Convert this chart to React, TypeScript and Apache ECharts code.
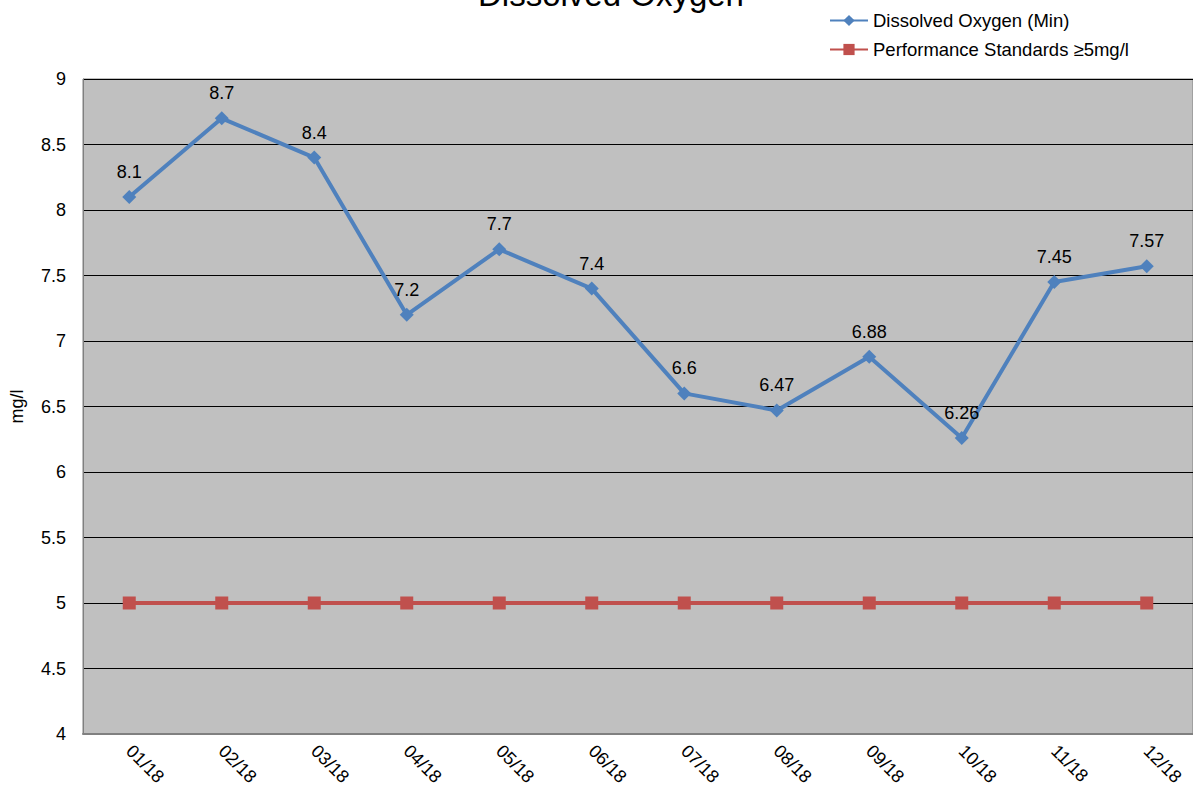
import React, { useEffect, useRef } from "react";
import * as echarts from "echarts";

// Monthly readings, 2018
const months = ["01/18", "02/18", "03/18", "04/18", "05/18", "06/18", "07/18", "08/18", "09/18", "10/18", "11/18", "12/18"];
const dissolvedOxygenMin = [8.1, 8.7, 8.4, 7.2, 7.7, 7.4, 6.6, 6.47, 6.88, 6.26, 7.45, 7.57];
const performanceStandard = [5, 5, 5, 5, 5, 5, 5, 5, 5, 5, 5, 5];

const FONT = "'Liberation Sans', Arial, sans-serif";

export default function App() {
  const ref = useRef<HTMLDivElement>(null);

  useEffect(() => {
    if (!ref.current) return;
    const chart = echarts.init(ref.current, undefined, { renderer: "svg" });
    chart.setOption({
      animation: false,
      backgroundColor: "#ffffff",
      textStyle: { fontFamily: FONT },
      graphic: [
        {
          type: "text",
          left: 478,
          top: -22,
          style: { text: "Dissolved Oxygen", fontSize: 33, fill: "#000", fontFamily: FONT },
        },
      ],
      legend: {
        orient: "vertical",
        left: 824,
        top: 6,
        itemWidth: 38,
        itemHeight: 14,
        itemGap: 10,
        itemTextGap: 4,
        textStyle: { fontSize: 18.5, color: "#000", fontFamily: FONT },
        data: ["Dissolved Oxygen (Min)", "Performance Standards ≥5mg/l"],
      },
      grid: {
        left: 80,
        top: 79,
        width: 1120,
        height: 655,
        show: true,
        backgroundColor: "#C0C0C0",
        borderColor: "#808080",
        borderWidth: 1,
      },
      xAxis: {
        type: "category",
        data: months,
        boundaryGap: true,
        axisLine: { lineStyle: { color: "#808080", width: 2 } },
        axisTick: { show: false },
        axisLabel: { rotate: -45, fontSize: 18, color: "#000", margin: 14, fontFamily: FONT },
      },
      yAxis: {
        type: "value",
        min: 4,
        max: 9,
        interval: 0.5,
        name: "mg/l",
        nameLocation: "middle",
        nameGap: 57,
        nameRotate: 90,
        nameTextStyle: { fontSize: 18, color: "#000", fontFamily: FONT },
        axisLine: { show: true, lineStyle: { color: "#808080", width: 1 } },
        axisTick: { show: false },
        axisLabel: { fontSize: 18, color: "#000", margin: 17, fontFamily: FONT },
        splitLine: { lineStyle: { color: "#000", width: 1 } },
      },
      series: [
        {
          name: "Dissolved Oxygen (Min)",
          type: "line",
          data: dissolvedOxygenMin,
          color: "#4F81BD",
          lineStyle: { width: 4, color: "#4F81BD" },
          symbol: "diamond",
          symbolSize: 14,
          itemStyle: { color: "#4F81BD" },
          label: { show: true, position: "top", distance: 9, fontSize: 18, color: "#000", fontFamily: FONT },
          z: 3,
        },
        {
          name: "Performance Standards ≥5mg/l",
          type: "line",
          data: performanceStandard,
          color: "#C0504D",
          lineStyle: { width: 4, color: "#C0504D" },
          symbol: "rect",
          symbolSize: 13,
          itemStyle: { color: "#C0504D" },
          z: 2,
        },
      ],
    });
    return () => chart.dispose();
  }, []);

  return (
    <div
      ref={ref}
      style={{ position: "fixed", left: 0, top: 0, width: 1193, height: 791 }}
    />
  );
}
